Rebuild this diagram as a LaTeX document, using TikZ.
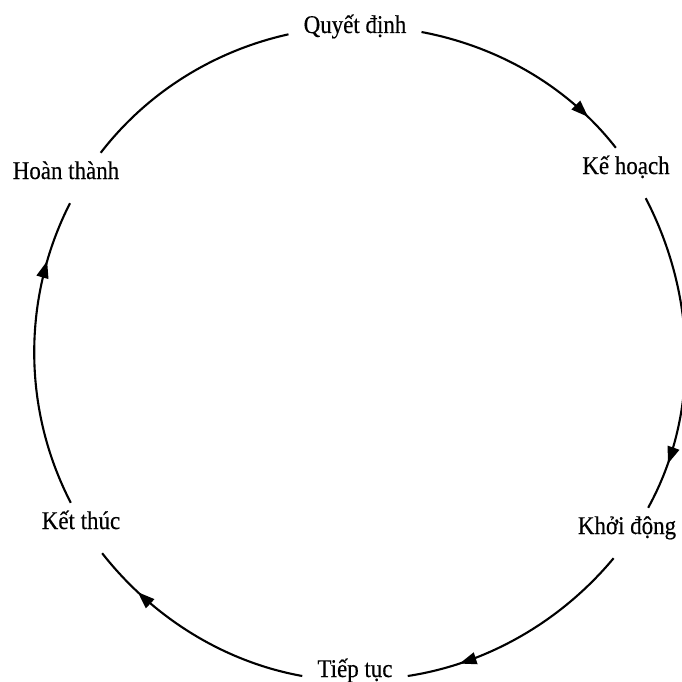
\documentclass[tikz,border=0pt]{standalone}
\usepackage{fontspec}
\setmainfont{Liberation Serif}
\newfontfamily\lblfont[FakeStretch=0.9,FakeBold=0.4]{Liberation Serif}
\usetikzlibrary{decorations.markings,arrows.meta}
\begin{document}
\begin{tikzpicture}[x=1pt,y=1pt,
  lbl/.style={font=\lblfont\fontsize{25.5}{28}\selectfont, inner xsep=15pt, inner ysep=1pt,
              text height=25pt, text depth=23pt},
  conn/.style={line width=2.1pt},
  arr/.style={conn, postaction={decorate}, decoration={markings,
              mark=at position #1 with {\arrow{Triangle[length=17pt,width=12pt]}}}}
]
\useasboundingbox (0,0) rectangle (682,-682);
\node[lbl] (q)  at (355,-32)  {Quyết định};
\node[lbl] (k)  at (626,-173) {Kế hoạch};
\node[lbl] (kd) at (627,-533) {Khởi động};
\node[lbl] (t)  at (355,-676) {Tiếp tục};
\node[lbl] (kt) at (81,-528)  {Kết thúc};
\node[lbl] (h)  at (66,-178)  {Hoàn thành};
\draw[arr=0.82] (q.0)      to[out=-10.7, in=127.9, looseness=0.88] (k.112);
\draw[arr=0.85] (k.-52)    to[out=-62.5, in=61.2,  looseness=0.9]  (kd.50);
\draw[arr=0.78] (kd.-118)  to[out=230.2, in=8.7,   looseness=0.88] (t.0);
\draw[arr=0.78] (t.180)    to[out=169.8, in=308.1, looseness=0.88] (kt.-50);
\draw[arr=0.80] (kt.112)   to[out=117.4, in=243,   looseness=0.9]  (h.-81);
\draw[conn]     (h.36)     to[out=52.4,  in=192.5, looseness=0.88] (q.182);
\end{tikzpicture}
\end{document}
